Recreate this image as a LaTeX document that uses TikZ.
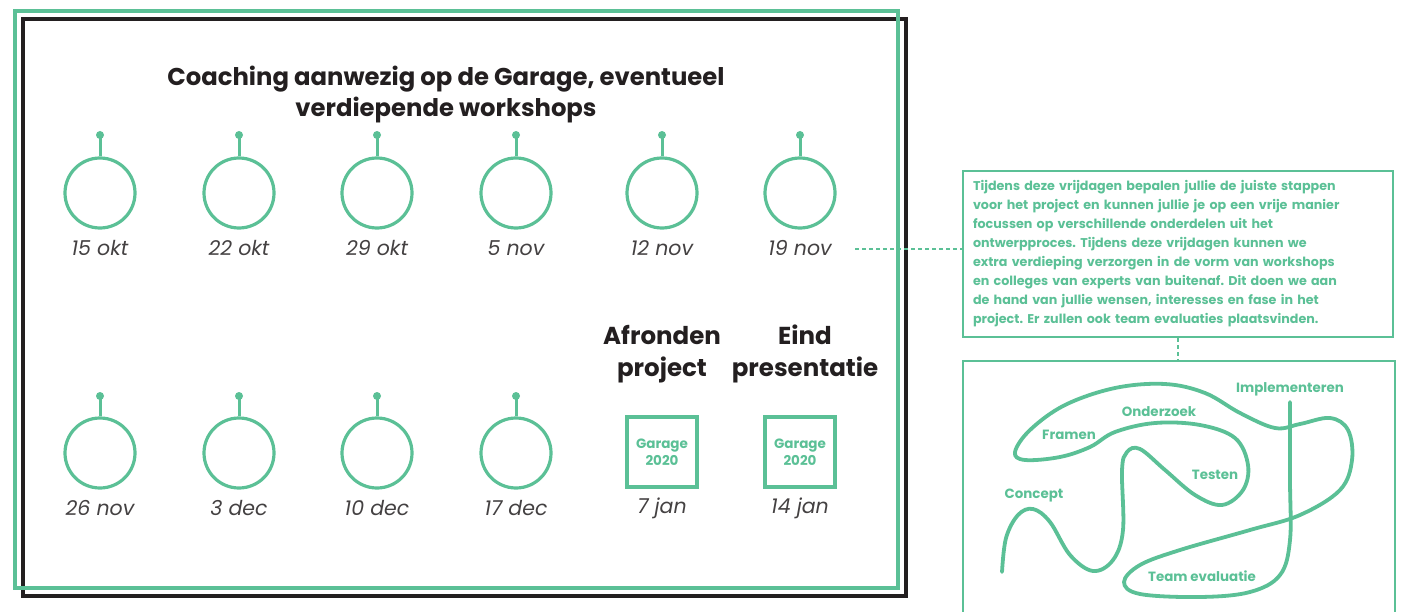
\documentclass[tikz,border=0pt]{standalone}
\usepackage{fontspec}
\setmainfont{Poppins}
\usetikzlibrary{positioning}
\definecolor{garagegreen}{HTML}{5BC096}
\definecolor{inkblack}{HTML}{231F20}
\frenchspacing
\tikzset{
  gline/.style={draw=garagegreen, line width=3.2pt},
  slot/.style={circle, draw=garagegreen, line width=3.2pt, minimum size=70pt, inner sep=0pt},
  stem/.style={draw=garagegreen, line width=3pt},
  datelbl/.style={font=\fontsize{20.5}{24}\selectfont\itshape, text=inkblack!85},
  heading/.style={font=\fontsize{24.5}{32}\selectfont\bfseries, text=inkblack, align=center},
  garagebox/.style={draw=garagegreen, line width=3.2pt, minimum size=70pt, inner sep=0pt, align=center,
    text=garagegreen, font=\fontsize{13.5}{17}\selectfont\bfseries},
  notebox/.style={draw=garagegreen, line width=2.6pt, minimum width=430pt, minimum height=166pt,
    text width=410pt, align=left, text=garagegreen, font=\fontsize{12.7}{19}\selectfont\bfseries},
  steplbl/.style={text=garagegreen, font=\fontsize{13.4}{15}\selectfont\bfseries},
  dotted link/.style={draw=garagegreen, line width=2.4pt, dash pattern=on 4pt off 3pt}
}
\begin{document}
\begin{tikzpicture}[x=1pt, y=-1pt]
  \useasboundingbox (0,0) rectangle (1420,612);

  % Frames
  \draw [inkblack, line width=3.4pt] (23,19) rectangle (906,596);
  \draw [gline] (15,11) rectangle (898,588);

  % Title
  \node [heading, font=\fontsize{24.3}{31}\selectfont\bfseries] (title) at (446,95)
    {Coaching aanwezig op de Garage, eventueel\\verdiepende workshops};

  % Fridays, first row
  \foreach \x/\d [count=\i] in {100/15 okt, 239/22 okt, 377/29 okt, 516/5 nov, 662/12 nov, 800/19 nov}{
    \node [slot] (t\i) at (\x,193) {};
    \coordinate (tp\i) at (\x,135);
    \draw [stem] (t\i.north) -- (tp\i);
    \fill [garagegreen] (tp\i) circle (4);
    \node [datelbl] (td\i) at (\x,248) {\d};
  }

  % Fridays, second row
  \foreach \x/\d [count=\i] in {100/26 nov, 239/3 dec, 377/10 dec, 516/17 dec}{
    \node [slot] (b\i) at (\x,453) {};
    \coordinate (bp\i) at (\x,396);
    \draw [stem] (b\i.north) -- (bp\i);
    \fill [garagegreen] (bp\i) circle (4);
    \node [datelbl] (bd\i) at (\x,508) {\d};
  }

  % Final weeks
  \node [heading] (afronden) at (662,354) {Afronden\\project};
  \node [heading] (eind) at (805,354) {Eind\\presentatie};
  \node [garagebox] (jan7) at (662,452) {Garage\\2020};
  \node [garagebox] (jan14) at (800,452) {Garage\\2020};
  \node [datelbl] (jd7) at (662,508) {7 jan};
  \node [datelbl] (jd14) at (800,508) {14 jan};

  % Explanation
  \node [notebox] (note) at (1178,254)
    {Tijdens deze vrijdagen bepalen jullie de juiste stappen\\
     voor het project en kunnen jullie je op een vrije manier\\
     focussen op verschillende onderdelen uit het\\
     ontwerpproces. Tijdens deze vrijdagen kunnen we\\
     extra verdieping verzorgen in de vorm van workshops\\
     en colleges van experts van buitenaf. Dit doen we aan\\
     de hand van jullie wensen, interesses en fase in het\\
     project. Er zullen ook team evaluaties plaatsvinden.};
  \coordinate (lead) at (855,249);
  \draw [dotted link] (lead) -- (lead -| note.west);

  % Design process
  \node [draw=garagegreen, line width=2.6pt, minimum width=432pt, minimum height=280pt] (proc) at (1179,501) {};
  \draw [dotted link] (note.south) -- (note.south |- proc.north);

  \draw [garagegreen, line width=3.8pt, line cap=round] plot [smooth, tension=0.6] coordinates {
    (1002,572) (1006,538) (1018,515) (1033,509) (1050,522) (1070,555) (1093,571)
    (1113,560) (1123,530) (1122,470) (1127,452) (1140,449) (1165,470) (1195,495)
    (1222,505) (1243,490) (1248,465) (1235,438) (1200,425) (1155,423) (1115,432)
    (1090,447) (1060,457) (1025,460) (1015,452) (1030,430) (1065,405) (1115,388)
    (1165,384) (1205,393) (1240,413) (1275,428) (1300,424) (1330,418) (1348,430)
    (1352,460) (1340,490) (1300,515) (1250,530) (1180,550) (1140,565) (1124,582)
    (1140,594) (1200,597) (1250,592) (1280,575) (1290,540) (1290,480) (1290,402)};

  \node [steplbl] (concept) at (1034,496) {Concept};
  \node [steplbl] (framen) at (1069,435) {Framen};
  \node [steplbl] (onderzoek) at (1159,412) {Onderzoek};
  \node [steplbl] (testen) at (1215,475) {Testen};
  \node [steplbl] (implementeren) at (1290,389) {Implementeren};
  \node [steplbl] (team) at (1202,576) {Team evaluatie};
\end{tikzpicture}
\end{document}
